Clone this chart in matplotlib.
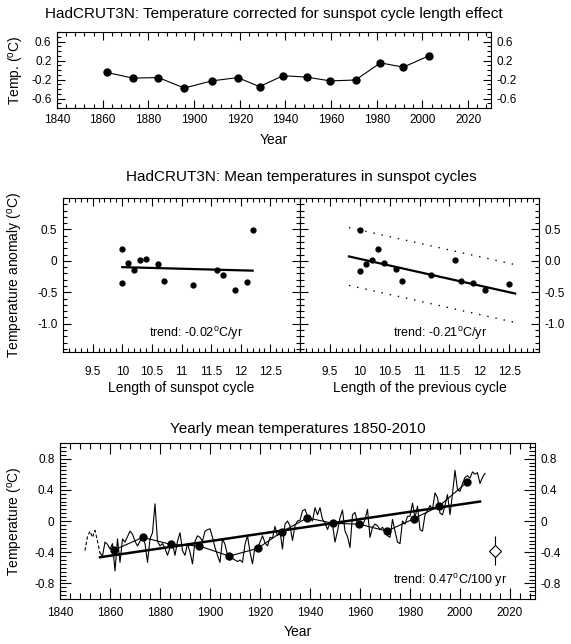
import numpy as np
import matplotlib
matplotlib.use('Agg')
import matplotlib.pyplot as plt
from matplotlib.ticker import MultipleLocator

plt.rcParams['font.family'] = ['Liberation Sans', 'DejaVu Sans']
plt.rcParams['mathtext.fontset'] = 'custom'
plt.rcParams['mathtext.rm'] = 'Liberation Sans'
plt.rcParams['mathtext.it'] = 'Liberation Sans:italic'
plt.rcParams['axes.linewidth'] = 0.8

# --- data ---
# mid years of sunspot cycles 10..23
cycle_mid = [1861.7, 1873.1, 1884.4, 1895.7, 1907.7, 1919.1, 1928.7,
             1938.9, 1949.3, 1959.7, 1970.7, 1981.6, 1991.6, 2002.9]
corrected_temp = [-0.05, -0.17, -0.16, -0.38, -0.23, -0.16, -0.35,
                  -0.12, -0.15, -0.23, -0.21, 0.15, 0.06, 0.30]
cycle_mean_temp = [-0.37, -0.21, -0.30, -0.32, -0.45, -0.35, -0.14,
                   0.04, -0.03, -0.04, -0.13, 0.03, 0.19, 0.50]

# mean temperature vs length of the same cycle
cycle_len = [10.0, 10.0, 10.1, 10.2, 10.3, 10.4, 10.6, 10.7, 11.2, 11.6, 11.7, 11.9, 12.1, 12.2]
cycle_len_temp = [0.19, -0.36, -0.04, -0.15, 0.02, 0.03, -0.05, -0.32, -0.38, -0.14, -0.23, -0.46, -0.33, 0.49]

# mean temperature vs length of the previous cycle
prev_len = [10.0, 10.0, 10.1, 10.2, 10.3, 10.4, 10.6, 10.7, 11.2, 11.6, 11.7, 11.9, 12.1, 12.5]
prev_len_temp = [0.49, -0.16, -0.05, 0.02, 0.19, -0.04, -0.13, -0.32, -0.23, 0.02, -0.32, -0.35, -0.46, -0.37]
prev_trend_len = [9.82, 12.6]
prev_trend_temp = [0.07, -0.52]
prev_band = 0.46

# yearly means 1850-2010
years = np.arange(1850, 2011)
yearly_temp = [
    -0.38, -0.20, -0.13, -0.21, -0.12, -0.26, -0.41, -0.45, -0.27, -0.30,   # 1850
    -0.36, -0.29, -0.64, -0.23, -0.53, -0.23, -0.27, -0.20, -0.13, -0.17,   # 1860
    -0.26, -0.32, -0.26, -0.21, -0.29, -0.53, -0.23, -0.15, 0.22, -0.26,    # 1870
    -0.32, -0.29, -0.35, -0.44, -0.34, -0.29, -0.44, -0.26, -0.15, -0.38,   # 1880
    -0.44, -0.29, -0.40, -0.55, -0.26, -0.19, -0.21, -0.26, -0.13, -0.11,   # 1890
    -0.10, -0.21, -0.34, -0.44, -0.53, -0.23, -0.30, -0.44, -0.50, -0.48,   # 1900
    -0.50, -0.52, -0.50, -0.53, -0.30, -0.19, -0.40, -0.55, -0.33, -0.36,   # 1910
    -0.27, -0.19, -0.28, -0.32, -0.21, -0.22, -0.07, -0.19, -0.13, -0.36,   # 1920
    -0.04, 0.00, -0.06, -0.25, -0.06, 0.00, 0.01, 0.13, 0.15, 0.06,         # 1930
    0.04, 0.00, 0.17, 0.08, 0.17, 0.02, -0.02, -0.11, -0.02, -0.04,         # 1940
    -0.27, -0.13, 0.04, 0.14, -0.13, -0.20, -0.34, 0.08, 0.11, -0.02,       # 1950
    -0.04, -0.06, 0.02, 0.15, -0.21, -0.08, -0.04, -0.06, -0.11, -0.08,     # 1960
    -0.13, -0.19, -0.21, 0.02, -0.13, -0.27, -0.29, 0.00, -0.04, 0.06,      # 1970
    0.06, 0.23, 0.04, 0.19, -0.11, -0.13, 0.08, 0.13, 0.20, 0.15,           # 1980
    0.36, 0.30, 0.10, 0.08, 0.20, 0.34, 0.08, 0.35, 0.65, 0.40,             # 1990
    0.38, 0.48, 0.56, 0.58, 0.55, 0.63, 0.60, 0.62, 0.48, 0.56,             # 2000
    0.61]
yearly_temp = np.array(yearly_temp)
first_cycle_start = 1856
last_cycle_end = 2008
diamond_year, diamond_temp, diamond_err = 2014, -0.38, 0.19

deg = r'$^{\rm o}$'
W, H = 571, 644
fig = plt.figure(figsize=(W / 100, H / 100), dpi=100)


def box(x0, x1, y0, y1):
    # pixel box -> figure fraction
    return [x0 / W, 1 - y1 / H, (x1 - x0) / W, (y1 - y0) / H]


def ticks(ax, major=6, minor=3, pad=4):
    ax.tick_params(which='both', direction='in', top=True, right=True,
                   labelsize=8.5, width=0.8, pad=pad)
    ax.tick_params(which='major', length=major)
    ax.tick_params(which='minor', length=minor)


# --- top: corrected temperature ---
ax1 = fig.add_axes(box(57, 491, 32, 108))
ax1.plot(cycle_mid, corrected_temp, color='k', lw=0.8, marker='o', ms=5)
ax1.set_xlim(1840, 2030)
ax1.set_ylim(-0.8, 0.8)
ax1.xaxis.set_major_locator(MultipleLocator(20))
ax1.xaxis.set_minor_locator(MultipleLocator(4))
ax1.set_yticks([-0.6, -0.2, 0.2, 0.6])
ax1.set_yticklabels(['-0.6', '-0.2', '0.2', '0.6'])
ax1.yaxis.set_minor_locator(MultipleLocator(0.1))
ticks(ax1)
ax1.tick_params(labelright=True)
ax1.set_title('HadCRUT3N: Temperature corrected for sunspot cycle length effect',
              fontsize=11, pad=10)
ax1.set_xlabel('Year', fontsize=10, labelpad=5)
fig.text(16 / W, 1 - 70 / H, 'Temp. (' + deg + 'C)', rotation=90,
         ha='center', va='center', fontsize=10)

# --- middle: temperature vs cycle length ---
len_ticks = [9.5, 10, 10.5, 11, 11.5, 12, 12.5]
len_labels = ['9.5', '10', '10.5', '11', '11.5', '12', '12.5']
axL = fig.add_axes(box(63, 300, 198, 352))
axR = fig.add_axes(box(300, 539, 198, 352))
for ax in (axL, axR):
    ax.set_xlim(9, 13)
    ax.set_ylim(-1.45, 1.0)
    ax.set_xticks(len_ticks)
    ax.set_xticklabels(len_labels)
    ax.xaxis.set_minor_locator(MultipleLocator(0.1))
    ax.set_yticks([-1.0, -0.5, 0, 0.5])
    ax.yaxis.set_minor_locator(MultipleLocator(0.1))
    ticks(ax, major=6, minor=3, pad=4)
    ax.tick_params(axis='x', pad=10)

axL.set_yticklabels(['-1.0', '-0.5', '0', '0.5'])
axL.plot(cycle_len, cycle_len_temp, 'o', color='k', ms=3.5)
p = np.polyfit(cycle_len, cycle_len_temp, 1)
xs = np.array([min(cycle_len), max(cycle_len)])
axL.plot(xs, np.polyval(p, xs), color='k', lw=1.6)
axL.text(11.25, -1.15, 'trend: -0.02' + deg + 'C/yr', ha='center', va='center', fontsize=9)
axL.set_xlabel('Length of sunspot cycle', fontsize=10, labelpad=2)

axR.set_yticklabels(['-1.0', '-0.5', '0.0', '0.5'])
axR.tick_params(labelleft=False, labelright=True)
axR.plot(prev_len, prev_len_temp, 'o', color='k', ms=3.5)
trend = np.array(prev_trend_temp)
axR.plot(prev_trend_len, trend, color='k', lw=1.6)
axR.plot(prev_trend_len, trend + prev_band, color='k', lw=1, ls=(0, (1, 5)))
axR.plot(prev_trend_len, trend - prev_band, color='k', lw=1, ls=(0, (1, 5)))
axR.text(11.35, -1.15, 'trend: -0.21' + deg + 'C/yr', ha='center', va='center', fontsize=9)
axR.set_xlabel('Length of the previous cycle', fontsize=10, labelpad=2)

fig.text(301 / W, 1 - 177 / H, 'HadCRUT3N: Mean temperatures in sunspot cycles',
         ha='center', va='center', fontsize=11)
fig.text(16 / W, 1 - 275 / H, 'Temperature anomaly (' + deg + 'C)', rotation=90,
         ha='center', va='center', fontsize=10)

# --- bottom: yearly means ---
ax3 = fig.add_axes(box(60, 535, 443, 599))
early = years <= first_cycle_start
late = years >= first_cycle_start
ax3.plot(years[early], yearly_temp[early], color='k', lw=0.8, ls=(0, (3, 2)))
ax3.plot(years[late], yearly_temp[late], color='k', lw=0.8)
fit = (years >= first_cycle_start) & (years <= last_cycle_end)
p = np.polyfit(years[fit], yearly_temp[fit], 1)
xs = np.array([first_cycle_start, last_cycle_end])
ax3.plot(xs, np.polyval(p, xs), color='k', lw=1.8)
ax3.plot(cycle_mid, cycle_mean_temp, color='k', lw=0.8, marker='o', ms=5)
ax3.errorbar([diamond_year], [diamond_temp], yerr=[diamond_err], fmt='D', ms=6,
             mfc='white', mec='k', mew=0.8, ecolor='k', elinewidth=0.8, capsize=0)
ax3.text(2019, -0.76, 'trend: 0.47' + deg + 'C/100 yr', ha='right', va='center', fontsize=9)
ax3.set_xlim(1840, 2030)
ax3.set_ylim(-1.0, 1.0)
ax3.xaxis.set_major_locator(MultipleLocator(20))
ax3.xaxis.set_minor_locator(MultipleLocator(4))
ax3.set_yticks([-0.8, -0.4, 0, 0.4, 0.8])
ax3.set_yticklabels(['-0.8', '-0.4', '0', '0.4', '0.8'])
ax3.yaxis.set_minor_locator(MultipleLocator(0.05))
ticks(ax3, major=8, minor=4)
ax3.tick_params(axis='x', pad=6)
ax3.tick_params(labelright=True)
ax3.set_title('Yearly mean temperatures 1850-2010', fontsize=11, pad=7)
ax3.set_xlabel('Year', fontsize=10, labelpad=4)
fig.text(16 / W, 1 - 521 / H, 'Temperature (' + deg + 'C)', rotation=90,
         ha='center', va='center', fontsize=10)

fig.savefig('out.png', dpi=100)
